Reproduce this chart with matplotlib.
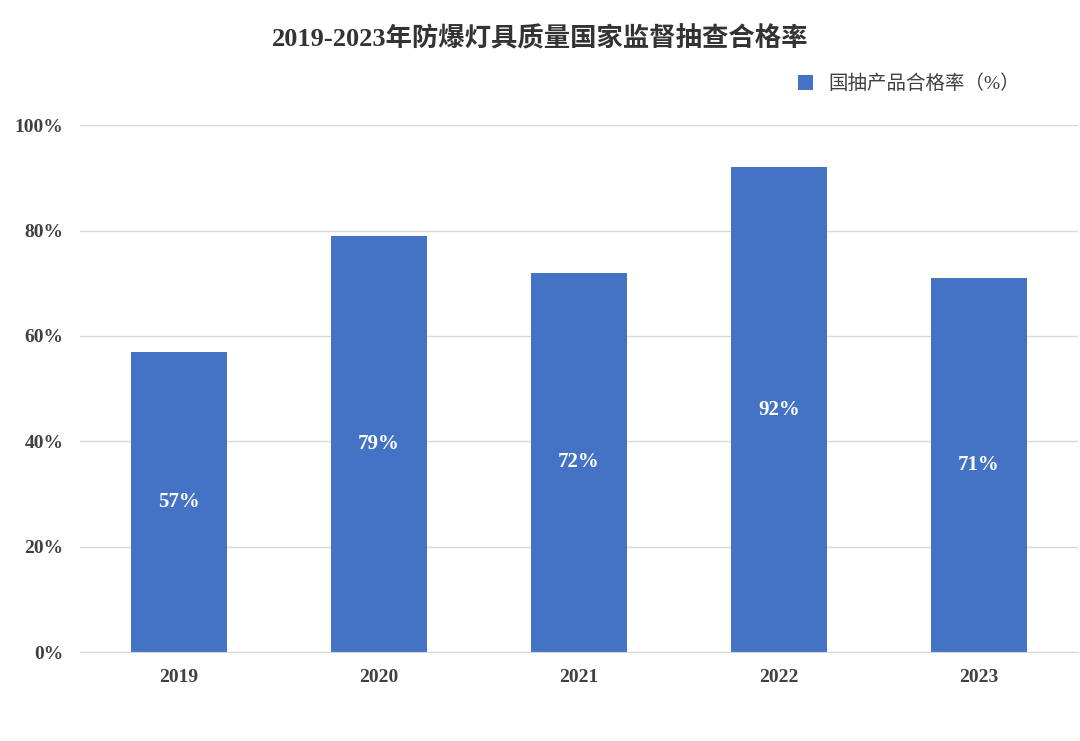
import matplotlib.pyplot as plt

plt.rcParams['font.family'] = ['Liberation Serif', 'Noto Sans CJK SC']

years = ['2019', '2020', '2021', '2022', '2023']
rates = [57, 79, 72, 92, 71]
yticks = [0, 20, 40, 60, 80, 100]
series_name = '国抽产品合格率（%）'
title = '2019-2023年防爆灯具质量国家监督抽查合格率'

fig = plt.figure(figsize=(10.8, 7.41), dpi=100)
ax = fig.add_axes([0.074, 0.12, 0.924, 0.711])

x = range(len(years))
bars = ax.bar(x, rates, width=0.48, color='#4472C4', label=series_name, zorder=2)
for xi, v in zip(x, rates):
    ax.text(xi, v / 2, f'{v}%', ha='center', va='center', color='white',
            fontsize=15, fontweight='bold')

ax.set_xlim(-0.495, 4.495)
ax.set_ylim(0, 100)
ax.set_yticks(yticks)
ax.set_yticklabels([f'{t}%' for t in yticks])
ax.set_xticks(list(x))
ax.set_xticklabels(years)
ax.tick_params(length=0, labelsize=14, colors='#404040', pad=12)
for lab in ax.get_xticklabels() + ax.get_yticklabels():
    lab.set_fontweight('bold')
ax.grid(axis='y', color='#d9d9d9', linewidth=1, zorder=0)
for s in ['top', 'right', 'left']:
    ax.spines[s].set_visible(False)
ax.spines['bottom'].set_color('#d9d9d9')

fig.suptitle(title, y=0.965, fontsize=19, fontweight='bold', color='#333333')
ax.legend(loc='upper right', bbox_to_anchor=(0.96, 1.13), frameon=False,
          fontsize=14, handlelength=0.8, handleheight=0.8, labelcolor='#404040')

fig.savefig('out.png', dpi=100)
